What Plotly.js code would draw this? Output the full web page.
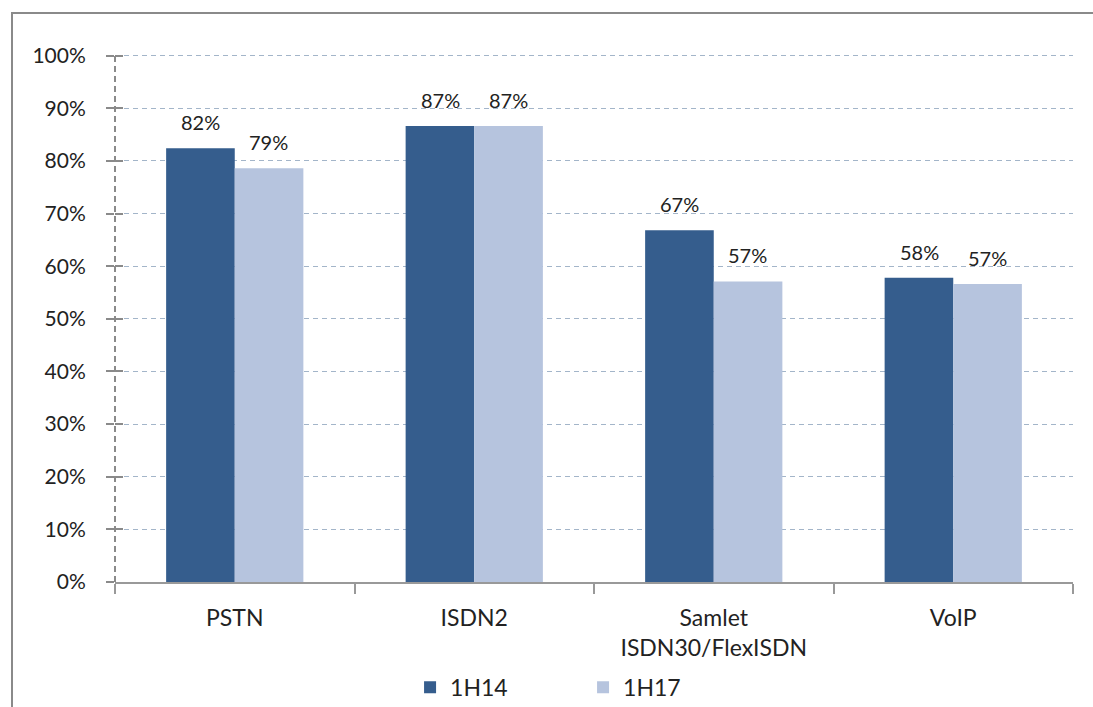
<!DOCTYPE html>
<html>
<head>
<meta charset="utf-8">
<script src="https://cdn.plot.ly/plotly-3.0.1.min.js"></script>
<style>
  html, body { margin:0; padding:0; background:#fff; overflow:hidden; }
  #chart { position:absolute; left:0; top:0; width:1093px; height:707px; }
  #frame { position:absolute; left:11px; top:12px; width:1100px; height:720px;
           border-left:2px solid #8a8a8a; border-top:2px solid #8a8a8a; pointer-events:none; }
</style>
</head>
<body>
<div id="chart"></div>
<div id="frame"></div>
<script>
const categories = ["PSTN", "ISDN2", "Samlet<br>ISDN30/FlexISDN", "VoIP"];
const series1Name = "1H14";
const series2Name = "1H17";
const values1H14 = [82.4, 86.6, 66.8, 57.8];
const values1H17 = [78.6, 86.6, 57.1, 56.6];
const labels1H14 = ["82%", "87%", "67%", "58%"];
const labels1H17 = ["79%", "87%", "57%", "57%"];
const yTickVals = [0,10,20,30,40,50,60,70,80,90,100];
const yTickText = ["0%","10%","20%","30%","40%","50%","60%","70%","80%","90%","100%"];

const darkBlue = "#355d8d";
const lightBlue = "#b6c4de";
const font = "Lato, 'Open Sans', sans-serif";
const textColor = "#222222";

const traces = [
  { type:"bar", name:series1Name, x:categories, y:values1H14, marker:{color:darkBlue}, hoverinfo:"none" },
  { type:"bar", name:series2Name, x:categories, y:values1H17, marker:{color:lightBlue}, hoverinfo:"none" }
];

const annotations = [];
categories.forEach((c, i) => {
  annotations.push({ x:c, y:values1H14[i], text:labels1H14[i], showarrow:false, xref:"x", yref:"y",
    xanchor:"center", yanchor:"bottom", xshift:-34, yshift:12, font:{family:font, size:20, color:textColor} });
  annotations.push({ x:c, y:values1H17[i], text:labels1H17[i], showarrow:false, xref:"x", yref:"y",
    xanchor:"center", yanchor:"bottom", xshift:34, yshift:12, font:{family:font, size:20, color:textColor} });
});

const shapes = [
  { type:"line", xref:"paper", yref:"paper", x0:0, x1:0, y0:0, y1:1,
    line:{color:"#8a8a8a", width:2, dash:"6px,4px"} }
];

const layout = {
  width:1093, height:707,
  margin:{l:115, r:20, t:54, b:125, autoexpand:false},
  paper_bgcolor:"#ffffff", plot_bgcolor:"#ffffff",
  barmode:"group", bargap:0.427, bargroupgap:0,
  showlegend:true,
  legend:{orientation:"h", x:0.308, xanchor:"left", yref:"container", y:0.028, yanchor:"middle",
    font:{family:font, size:23, color:textColor}, entrywidth:128, entrywidthmode:"pixels",
    itemwidth:30, bgcolor:"rgba(0,0,0,0)", traceorder:"normal"},
  font:{family:font, color:textColor},
  xaxis:{ type:"category", showgrid:false, showline:true, linecolor:"#999999", linewidth:2,
    ticks:"outside", tickson:"boundaries", ticklen:10, tickcolor:"#999999", tickwidth:2, automargin:false,
    tickfont:{family:font, size:23, color:textColor}, ticklabelstandoff:14, fixedrange:true, zeroline:false },
  yaxis:{ range:[0,100.3], tickvals:yTickVals, ticktext:yTickText, showgrid:true, automargin:false,
    gridcolor:"#a3b5c9", griddash:"5px,4px", gridwidth:1, zeroline:false, showline:false,
    ticks:"outside", ticklen:8, tickcolor:"#8a8a8a", tickwidth:2,
    tickfont:{family:font, size:21, color:textColor}, ticklabelstandoff:16, fixedrange:true },
  yaxis2:{ overlaying:"y", range:[0,100.3], tickvals:yTickVals, showgrid:false, zeroline:false, automargin:false,
    showticklabels:false, ticks:"inside", ticklen:8, tickcolor:"#8a8a8a", tickwidth:2, side:"left", fixedrange:true },
  annotations:annotations,
  shapes:shapes
};

traces.push({ type:"scatter", x:[categories[0]], y:[0], yaxis:"y2", mode:"markers",
  marker:{opacity:0}, showlegend:false, hoverinfo:"none" });

Plotly.newPlot("chart", traces, layout, {staticPlot:true, displayModeBar:false});
</script>
</body>
</html>
